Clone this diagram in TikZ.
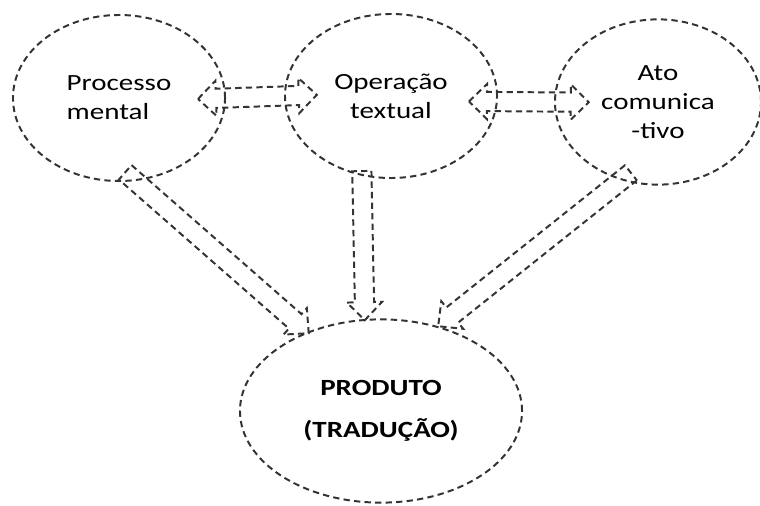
\documentclass[tikz,border=0pt]{standalone}
\usepackage{fontspec}
\setmainfont{Carlito}[FakeStretch=1.25]
\usetikzlibrary{calc,shapes.geometric}

\tikzset{
	dashline/.style={draw=black!80,line width=1.4pt,dash pattern=on 4.5pt off 3pt,line join=miter},
	bubble/.style={dashline,ellipse,inner sep=0pt,font=\fontsize{16.5}{20.5}\selectfont},
}

\newcommand{\arrowpoints}[4]{%
	\coordinate (s) at ($(#1)!-#3!(#2)$);
	\coordinate (t) at ($(#2)!-#4!(#1)$);
	\coordinate (sb) at ($(s)!0.45cm!(t)$);
	\coordinate (tb) at ($(t)!0.45cm!(s)$);}
\newcommand{\onearrow}[4]{%
	\arrowpoints{#1}{#2}{#3}{#4}
	\draw[dashline] ($(s)!0.24cm!90:(t)$) -- ($(tb)!0.24cm!-90:(s)$) -- ($(tb)!0.44cm!-90:(s)$) -- (t)
		-- ($(tb)!0.44cm!90:(s)$) -- ($(tb)!0.24cm!90:(s)$) -- ($(s)!0.24cm!-90:(t)$) -- cycle;}
\newcommand{\twoarrow}[4]{%
	\arrowpoints{#1}{#2}{#3}{#4}
	\draw[dashline] (s) -- ($(sb)!0.44cm!90:(t)$) -- ($(sb)!0.24cm!90:(t)$) -- ($(tb)!0.24cm!-90:(s)$)
		-- ($(tb)!0.44cm!-90:(s)$) -- (t) -- ($(tb)!0.44cm!90:(s)$) -- ($(tb)!0.24cm!90:(s)$)
		-- ($(sb)!0.24cm!-90:(t)$) -- ($(sb)!0.44cm!-90:(t)$) -- cycle;}

\begin{document}
\begin{tikzpicture}[x=0.025cm,y=-0.025cm]
	\useasboundingbox (0,0) rectangle (760,505);
	\node[bubble,minimum width=5.3cm,minimum height=4.15cm,align=left] (mental) at (119,98)
		{Processo\\mental};
	\node[bubble,minimum width=5.3cm,minimum height=4.1cm,align=center] (textual) at (391,96)
		{Operação\\textual};
	\node[bubble,minimum width=5.15cm,minimum height=4.13cm,align=center] (ato) at (658,102)
		{Ato\\comunica\\-tivo};
	\node[bubble,minimum width=7.05cm,minimum height=4.58cm,align=center,font=\fontsize{16.5}{20.5}\selectfont\bfseries] (produto) at (381,411)
		{PRODUTO\\[9pt](TRADUÇÃO)};
	\twoarrow{mental.0}{textual.180}{0.7cm}{0.82cm}
	\twoarrow{textual.-3}{ato.180}{0.72cm}{0.87cm}
	\onearrow{mental.281}{produto.133}{0.33cm}{0.05cm}
	\onearrow{textual.250}{produto.100}{0.12cm}{0.03cm}
	\onearrow{ato.245}{produto.56}{0.3cm}{0cm}
\end{tikzpicture}
\end{document}
